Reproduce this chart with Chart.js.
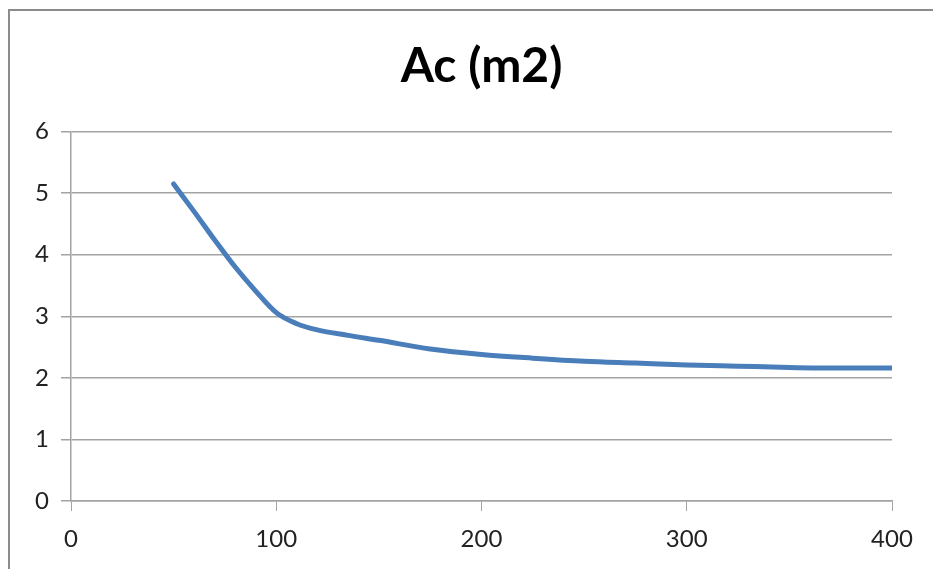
<!DOCTYPE html>
<html>
<head>
<meta charset="utf-8">
<script src="https://cdn.jsdelivr.net/npm/chart.js@4"></script>
<style>
  html, body { margin: 0; padding: 0; background: #fff; }
  #wrap { position: relative; width: 933px; height: 569px; overflow: hidden; }
  #frame { position: absolute; left: 8px; top: 9px; width: 1000px; height: 700px;
           border-left: 2px solid #8c8c8c; border-top: 2px solid #8c8c8c; }
  canvas { position: absolute; left: 0; top: 0; }
</style>
</head>
<body>
<div id="wrap">
  <div id="frame"></div>
  <canvas id="chart" width="933" height="569"></canvas>
</div>
<script>
const xValues = [50, 60, 70, 80, 90, 100, 110, 120, 135, 150, 175, 200, 225, 250, 275, 300, 325, 350, 375, 400];
const acValues = [5.15, 4.70, 4.24, 3.80, 3.41, 3.06, 2.88, 2.78, 2.69, 2.61, 2.47, 2.38, 2.32, 2.27, 2.24, 2.21, 2.19, 2.17, 2.16, 2.16];
const titleText = 'Ac (m2)';

const gridColor = '#a3a3a3';
const tickFont = { family: 'Lato', size: 24 };

new Chart(document.getElementById('chart'), {
  type: 'line',
  data: {
    datasets: [{
      label: titleText,
      data: xValues.map((x, i) => ({ x: x, y: acValues[i] })),
      borderColor: '#4a7ebb',
      borderWidth: 5,
      borderCapStyle: 'round',
      pointRadius: 0,
      cubicInterpolationMode: 'monotone'
    }]
  },
  options: {
    responsive: false,
    animation: false,
    layout: { padding: { left: 10, right: 41, top: 0, bottom: 0 } },
    plugins: {
      legend: { display: false },
      tooltip: { enabled: false },
      title: {
        display: true,
        fullSize: false,
        text: titleText,
        color: '#000',
        font: { family: 'Lato', size: 48, weight: 'bold' },
        padding: { top: 38, bottom: 36 }
      }
    },
    scales: {
      x: {
        type: 'linear',
        min: 0,
        max: 400,
        ticks: { stepSize: 100, color: '#222', font: tickFont, padding: 14, maxRotation: 0 },
        grid: { drawOnChartArea: false, color: gridColor, tickLength: 10 },
        border: { color: gridColor, width: 1.5 },
        afterFit: (scale) => { scale.height = 68; }
      },
      y: {
        min: 0,
        max: 6,
        ticks: { stepSize: 1, color: '#222', font: tickFont, padding: 12 },
        grid: { color: gridColor, lineWidth: 1.5, tickLength: 10 },
        border: { color: gridColor, width: 1.5 },
        afterFit: (scale) => { scale.width = 61; }
      }
    }
  }
});
</script>
</body>
</html>
